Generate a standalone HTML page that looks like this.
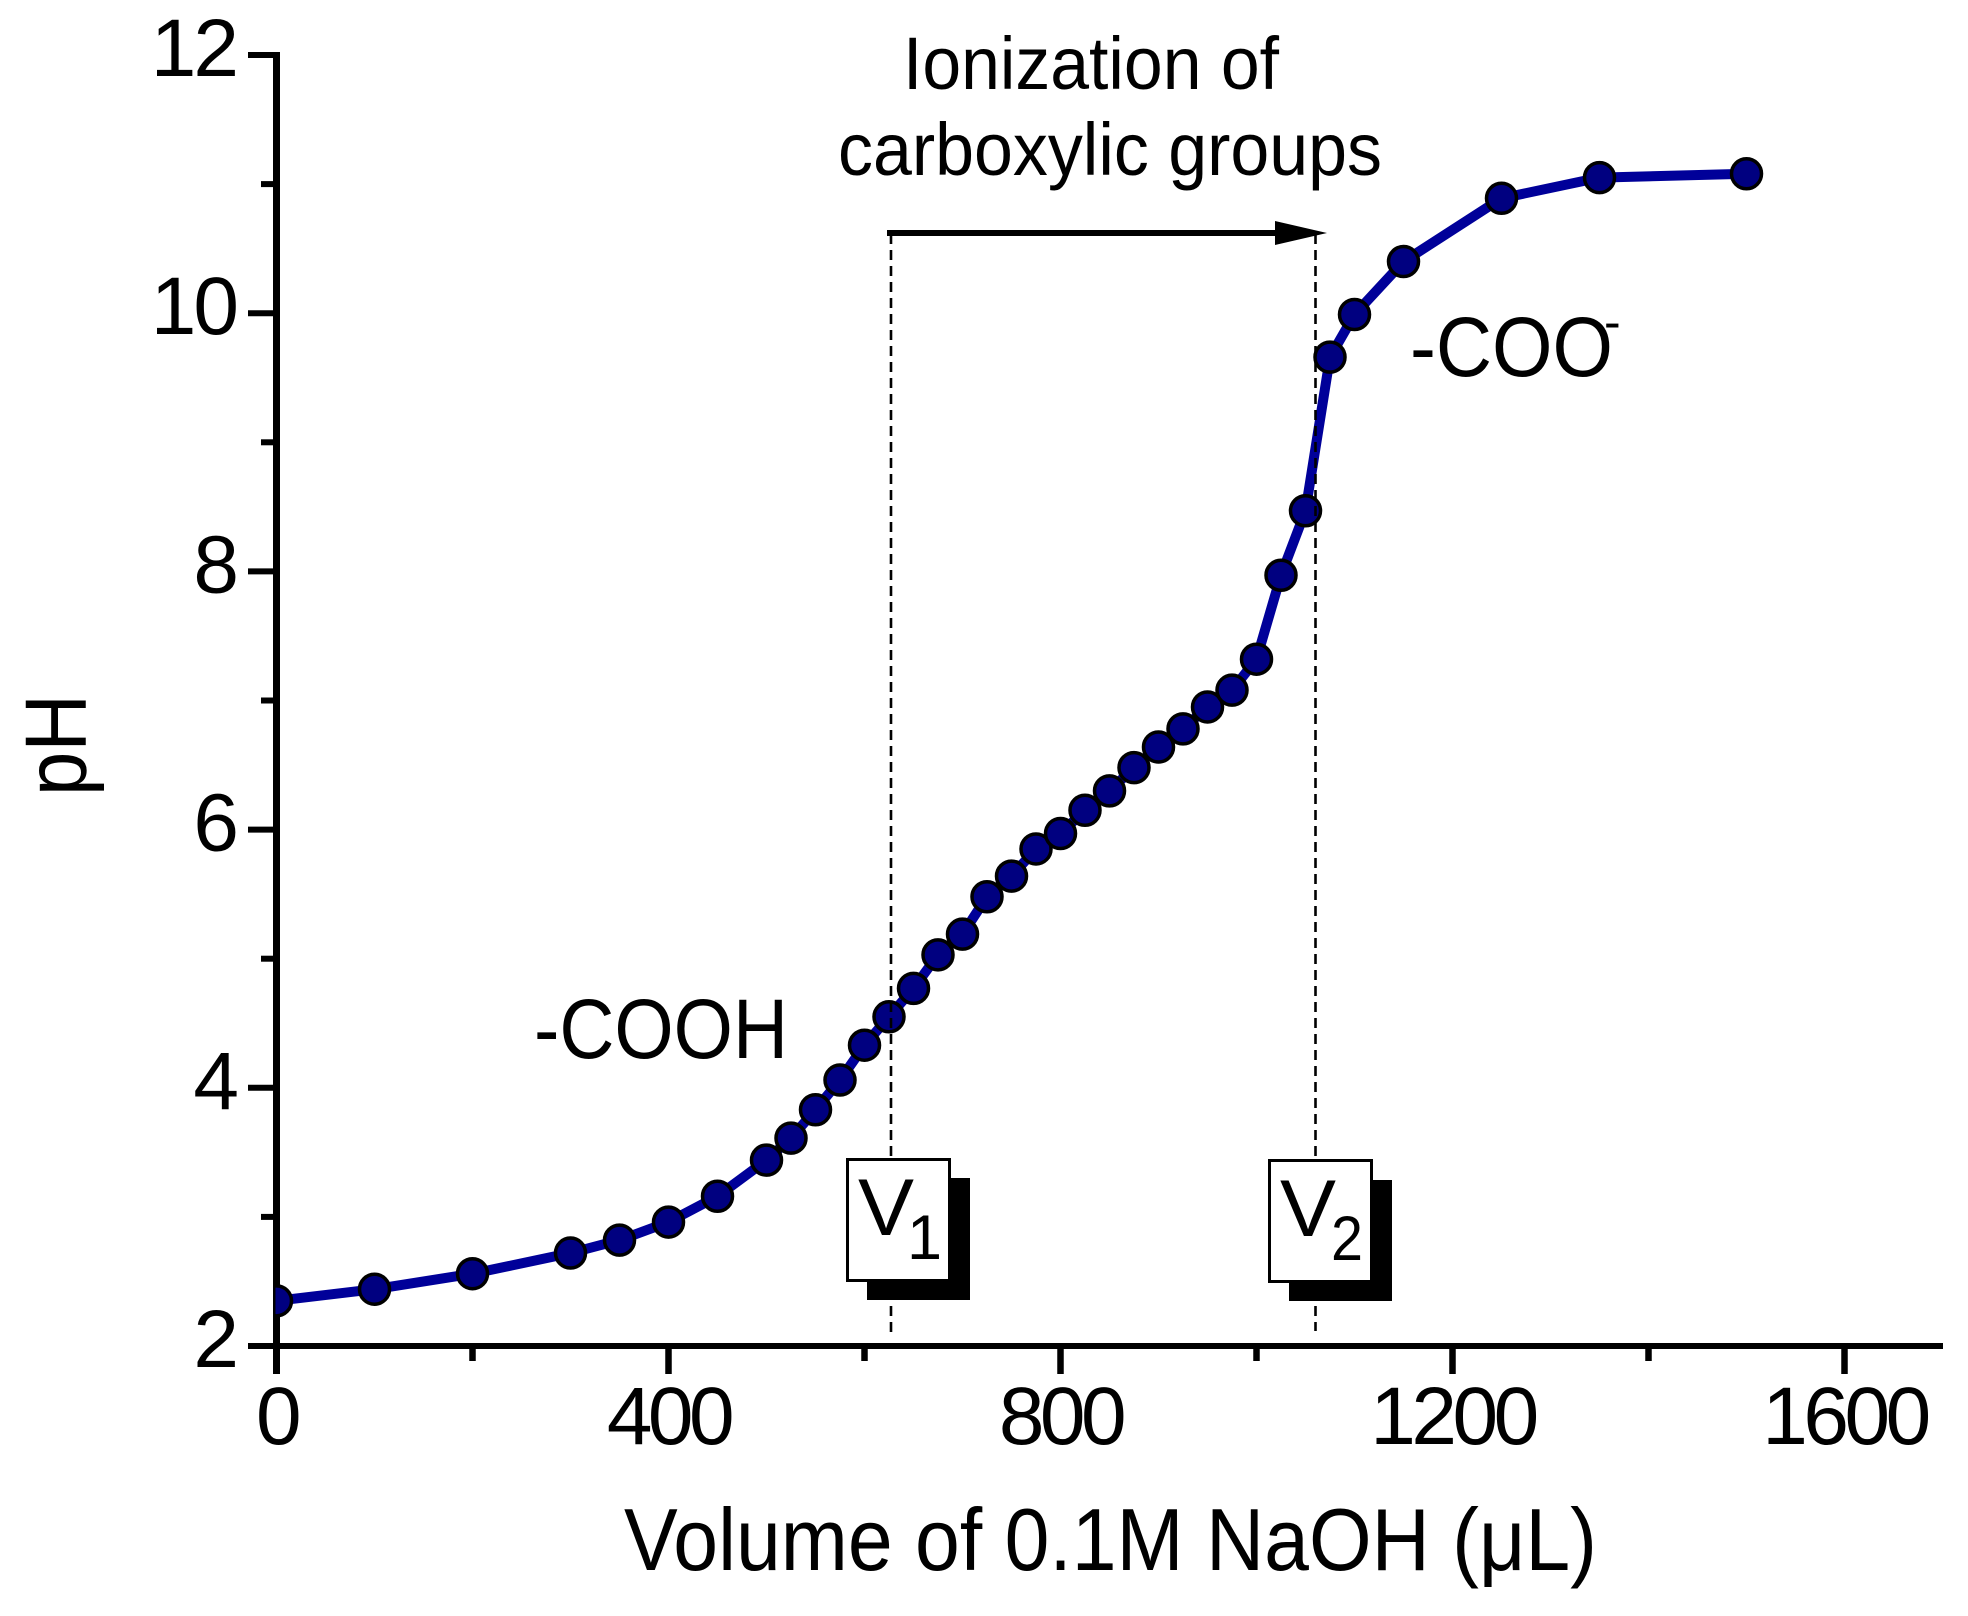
<!DOCTYPE html>
<html lang="en">
<head>
<meta charset="utf-8">
<title>pH titration curve</title>
<style>
html,body{margin:0;padding:0;background:#fff;}
svg{display:block;}
text{font-family:"Liberation Sans",Arial,sans-serif;fill:#000;}
</style>
</head>
<body>
<svg id="chart" xmlns="http://www.w3.org/2000/svg" width="1968" height="1616" viewBox="0 0 1968 1616">
  <defs>
    <clipPath id="plot-clip"><rect x="275.5" y="0" width="1692" height="1616"></rect></clipPath>
  </defs>
  <rect x="0" y="0" width="1968" height="1616" fill="#fff"></rect>

  <g id="axes-layer"></g>

  <g id="series-layer" clip-path="url(#plot-clip)"></g>

  <line x1="891" y1="234" x2="891" y2="1338" stroke="#000" stroke-width="2.6" stroke-dasharray="10 6"></line>
  <line x1="1315.5" y1="234" x2="1315.5" y2="1331" stroke="#000" stroke-width="2.6" stroke-dasharray="10 6"></line>

  <text transform="translate(86,796) rotate(-90)" font-size="87" textLength="102" lengthAdjust="spacingAndGlyphs">pH</text>
  <text x="624" y="1570" font-size="88" textLength="973" lengthAdjust="spacingAndGlyphs">Volume of 0.1M NaOH (μL)</text>

  <text x="903" y="89" font-size="74" textLength="376" lengthAdjust="spacingAndGlyphs">Ionization of</text>
  <text x="838" y="175" font-size="74" textLength="544" lengthAdjust="spacingAndGlyphs">carboxylic groups</text>

  <g>
    <line x1="887" y1="233" x2="1280" y2="233" stroke="#000" stroke-width="6"></line>
    <polygon points="1275,221 1327,233 1275,245" fill="#000"></polygon>
  </g>

  <text x="534" y="1058" font-size="84" textLength="254" lengthAdjust="spacingAndGlyphs">-COOH</text>
  <text x="1410" y="376" font-size="84" textLength="203" lengthAdjust="spacingAndGlyphs">-COO</text>
  <text x="1604" y="339" font-size="50">-</text>

  <g>
    <rect x="867" y="1178" width="103" height="122" fill="#000"></rect>
    <rect x="847.5" y="1159.5" width="102" height="121" fill="#fff" stroke="#000" stroke-width="3"></rect>
    <text x="858" y="1235" font-size="81" textLength="56" lengthAdjust="spacingAndGlyphs">V</text>
    <text x="907" y="1259" font-size="63">1</text>
  </g>
  <g>
    <rect x="1289" y="1180" width="103" height="121" fill="#000"></rect>
    <rect x="1269.5" y="1160.5" width="102" height="121" fill="#fff" stroke="#000" stroke-width="3"></rect>
    <text x="1280" y="1236" font-size="81" textLength="56" lengthAdjust="spacingAndGlyphs">V</text>
    <text x="1331" y="1260" font-size="63" textLength="32" lengthAdjust="spacingAndGlyphs">2</text>
  </g>
</svg>
<script>
const volumes = [0,100,200,300,350,400,450,500,525,550,575,600,625,650,675,700,725,750,775,800,825,850,875,900,925,950,975,1000,1025,1050,1075,1100,1150,1250,1350,1500];
const phValues = [2.35,2.44,2.56,2.72,2.82,2.96,3.16,3.44,3.61,3.83,4.06,4.33,4.55,4.77,5.03,5.19,5.48,5.64,5.85,5.97,6.15,6.30,6.48,6.64,6.78,6.95,7.08,7.32,7.97,8.47,9.66,9.99,10.40,10.89,11.05,11.08];
const xMajorTicks = [0,400,800,1200,1600];
const xMinorTicks = [200,600,1000,1400];
const yMajorTicks = [2,4,6,8,10,12];
const yMinorTicks = [3,5,7,9,11];

const NS = 'http://www.w3.org/2000/svg';
const xScale = function (v) { return 276.5 + v * 0.98; };
const yScale = function (p) { return 1346 - (p - 2) * 129.1; };

const seriesLayer = document.getElementById('series-layer');
const axesLayer = document.getElementById('axes-layer');

const curve = document.createElementNS(NS, 'polyline');


curve.setAttribute('points', volumes.map(function (v, i) { return xScale(v) + ',' + yScale(phValues[i]); }).join(' '));
curve.setAttribute('fill', 'none');
curve.setAttribute('stroke', '#000099');
curve.setAttribute('stroke-width', '10');
seriesLayer.appendChild(curve);

volumes.forEach(function (v, i) {
  const dot = document.createElementNS(NS, 'circle');
  
  
  dot.setAttribute('cx', xScale(v));
  dot.setAttribute('cy', yScale(phValues[i]));
  dot.setAttribute('r', 15);
  dot.setAttribute('fill', '#000080');
  dot.setAttribute('stroke', '#000');
  dot.setAttribute('stroke-width', 3.5);
  seriesLayer.appendChild(dot);
});

const xAxisLine = document.createElementNS(NS, 'line');


xAxisLine.setAttribute('x1', 248);
xAxisLine.setAttribute('x2', 1943);
xAxisLine.setAttribute('y1', yScale(2));
xAxisLine.setAttribute('y2', yScale(2));
xAxisLine.setAttribute('stroke', '#000');
xAxisLine.setAttribute('stroke-width', 6);
axesLayer.appendChild(xAxisLine);

const yAxisLine = document.createElementNS(NS, 'line');


yAxisLine.setAttribute('x1', xScale(0));
yAxisLine.setAttribute('x2', xScale(0));
yAxisLine.setAttribute('y1', yScale(12) - 3);
yAxisLine.setAttribute('y2', yScale(2) + 28);
yAxisLine.setAttribute('stroke', '#000');
yAxisLine.setAttribute('stroke-width', 7);
axesLayer.appendChild(yAxisLine);

xMajorTicks.forEach(function (v) {
  const tick = document.createElementNS(NS, 'line');
  
  
  tick.setAttribute('x1', xScale(v));
  tick.setAttribute('x2', xScale(v));
  tick.setAttribute('y1', yScale(2));
  tick.setAttribute('y2', yScale(2) + 28);
  tick.setAttribute('stroke', '#000');
  tick.setAttribute('stroke-width', 6.5);
  axesLayer.appendChild(tick);

  const label = document.createElementNS(NS, 'text');
  
  
  label.setAttribute('x', xScale(v));
  label.setAttribute('y', yScale(2) + 98);
  label.setAttribute('font-size', 82);
  label.setAttribute('letter-spacing', -4.5);
  label.setAttribute('text-anchor', 'middle');
  label.textContent = String(v);
  axesLayer.appendChild(label);
});

xMinorTicks.forEach(function (v) {
  const tick = document.createElementNS(NS, 'line');
  
  
  tick.setAttribute('x1', xScale(v));
  tick.setAttribute('x2', xScale(v));
  tick.setAttribute('y1', yScale(2));
  tick.setAttribute('y2', yScale(2) + 15);
  tick.setAttribute('stroke', '#000');
  tick.setAttribute('stroke-width', 6.5);
  axesLayer.appendChild(tick);
});

yMajorTicks.forEach(function (p) {
  const tick = document.createElementNS(NS, 'line');
  
  
  tick.setAttribute('x1', 248);
  tick.setAttribute('x2', xScale(0));
  tick.setAttribute('y1', yScale(p));
  tick.setAttribute('y2', yScale(p));
  tick.setAttribute('stroke', '#000');
  tick.setAttribute('stroke-width', 6);
  axesLayer.appendChild(tick);

  const label = document.createElementNS(NS, 'text');
  
  
  label.setAttribute('x', 236);
  label.setAttribute('y', yScale(p) + 21);
  label.setAttribute('font-size', 82);
  label.setAttribute('letter-spacing', -3);
  label.setAttribute('text-anchor', 'end');
  label.textContent = String(p);
  axesLayer.appendChild(label);
});

yMinorTicks.forEach(function (p) {
  const tick = document.createElementNS(NS, 'line');
  
  
  tick.setAttribute('x1', 261);
  tick.setAttribute('x2', xScale(0));
  tick.setAttribute('y1', yScale(p));
  tick.setAttribute('y2', yScale(p));
  tick.setAttribute('stroke', '#000');
  tick.setAttribute('stroke-width', 6);
  axesLayer.appendChild(tick);
});
</script>
</body>
</html>
